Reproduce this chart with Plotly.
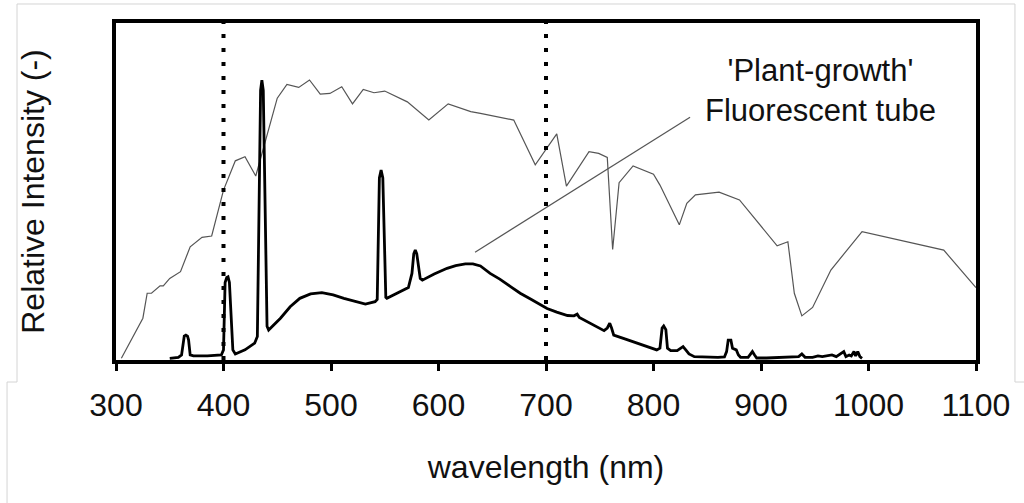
import plotly.graph_objects as go

# ---------------- data ----------------
sun_nm = [305, 325, 329, 333, 341, 344, 350, 360, 369, 380, 389, 400, 411, 420, 430, 440,
          450, 459, 470, 480, 490, 499, 510, 520, 530, 540, 550, 571, 591, 609, 630, 639,
          670, 690, 701, 710, 719, 740, 749, 757, 762, 768, 781, 800, 806, 824, 831, 839,
          861, 880, 915, 925, 931, 938, 948, 965, 994, 1070, 1100]
sun_int = [0.005, 0.124, 0.198, 0.198, 0.220, 0.220, 0.242, 0.262, 0.336, 0.364, 0.368,
           0.504, 0.591, 0.603, 0.546, 0.663, 0.777, 0.818, 0.809, 0.831, 0.789, 0.791,
           0.811, 0.760, 0.803, 0.793, 0.798, 0.766, 0.712, 0.760, 0.737, 0.732, 0.712,
           0.579, 0.628, 0.671, 0.516, 0.618, 0.613, 0.601, 0.328, 0.526, 0.576, 0.551,
           0.519, 0.401, 0.465, 0.490, 0.498, 0.475, 0.339, 0.351, 0.198, 0.131, 0.156,
           0.267, 0.381, 0.326, 0.215]

fl_nm = [350, 358, 361, 362.5, 363.5, 365, 366.5, 367.5, 369, 372, 385, 398, 400, 401.5,
         403, 404.2, 405.5, 408.7, 411, 420, 429, 431.5, 434.5, 435.7, 437, 440.5, 442, 453,
         462, 471, 481, 491.5, 502, 512, 522, 532, 541, 543, 545, 546.6, 548.2, 551, 552, 562,
         572, 575.3, 577, 578.4, 579.8, 583, 585, 596, 608, 616, 625, 632, 639, 648, 657,
         667, 676, 686, 694, 701, 710, 720, 726, 729, 731, 742, 754, 757, 759.3, 761, 763,
         774, 785, 795, 803, 806, 808, 809.5, 811.5, 813, 816, 822, 825, 827.5, 830, 833,
         838, 850, 860, 866, 868, 869.5, 872, 873.5, 877, 879, 881, 888, 890, 892, 894, 896,
         905, 915, 925, 935, 938, 941, 948, 953, 957, 962, 966, 970, 974, 977, 979, 982,
         984, 986.5, 988, 990, 992, 994]
fl_int = [0.005, 0.008, 0.015, 0.06, 0.071, 0.074, 0.071, 0.06, 0.015, 0.012, 0.012, 0.015,
          0.03, 0.23, 0.245, 0.247, 0.23, 0.03, 0.018, 0.03, 0.05, 0.07, 0.80, 0.83, 0.80,
          0.10, 0.089, 0.124, 0.158, 0.183, 0.196, 0.200, 0.193, 0.183, 0.174, 0.166, 0.173,
          0.18, 0.54, 0.564, 0.54, 0.186, 0.183, 0.198, 0.215, 0.257, 0.315, 0.326, 0.315,
          0.242, 0.237, 0.255, 0.272, 0.28, 0.285, 0.285, 0.279, 0.257, 0.24, 0.218, 0.198,
          0.180, 0.165, 0.153, 0.142, 0.132, 0.131, 0.136, 0.126, 0.107, 0.087, 0.095, 0.109,
          0.095, 0.074, 0.062, 0.050, 0.040, 0.030, 0.035, 0.095, 0.101, 0.09, 0.035, 0.028,
          0.028, 0.035, 0.040, 0.03, 0.018, 0.01, 0.008, 0.008, 0.009, 0.025, 0.059, 0.059,
          0.035, 0.030, 0.015, 0.008, 0.008, 0.018, 0.025, 0.015, 0.006, 0.006, 0.007, 0.009,
          0.01, 0.018, 0.008, 0.008, 0.012, 0.01, 0.014, 0.015, 0.01, 0.018, 0.025, 0.01,
          0.015, 0.012, 0.025, 0.012, 0.025, 0.01, 0.005]

par_bounds = [400, 700]          # dotted reference lines (nm)
x_ticks = [300, 400, 500, 600, 700, 800, 900, 1000, 1100]
label_text = "'Plant-growth'<br>Fluorescent tube"
label_pos = (955, 0.80)
leader = [(634, 0.32), (834, 0.72)]

FONT = "Liberation Sans, Arial, sans-serif"

fig = go.Figure()
fig.add_trace(go.Scatter(x=sun_nm, y=sun_int, mode="lines",
                         line=dict(color="#555555", width=1.2), showlegend=False,
                         hoverinfo="skip"))
fig.add_trace(go.Scatter(x=fl_nm, y=fl_int, mode="lines",
                         line=dict(color="#000000", width=2.8), showlegend=False,
                         hoverinfo="skip"))

shapes = []
for xb in par_bounds:
    shapes.append(dict(type="line", xref="x", yref="paper", x0=xb, x1=xb, y0=0, y1=1,
                       line=dict(color="black", width=4, dash="4px,10px")))
shapes.append(dict(type="line", xref="x", yref="y", x0=leader[0][0], y0=leader[0][1],
                   x1=leader[1][0], y1=leader[1][1], line=dict(color="#555555", width=1.2)))

# faint grey frame lines of the source picture
g = dict(color="#d4d4d4", width=1)
for (x0, y0, x1, y1) in [(-0.1151, 1.0564, 1.0453, 1.0564), (-0.1151, 1.0564, -0.1151, -0.0653),
                         (1.0453, 1.0564, 1.0453, -0.0653), (-0.1267, -0.0653, -0.1151, -0.0653),
                         (-0.1267, -0.0653, -0.1267, -0.45), (1.0453, -0.0653, 1.07, -0.0653)]:
    shapes.append(dict(type="line", xref="paper", yref="paper", x0=x0, y0=y0, x1=x1, y1=y1,
                       line=g, layer="below"))

fig.update_layout(
    width=1024, height=503,
    margin=dict(l=116, r=48, t=23, b=143),
    paper_bgcolor="white", plot_bgcolor="white",
    font=dict(family=FONT, color="#111111", size=32),
    shapes=shapes,
    xaxis=dict(range=[300, 1100], tickvals=x_ticks, ticks="outside", ticklen=7, tickwidth=3,
               tickcolor="black", showline=True, linewidth=3.5, linecolor="black", mirror=True,
               showgrid=False, zeroline=False, tickfont=dict(size=32, family=FONT),
               ticklabelstandoff=7,
               title=dict(text="wavelength (nm)", font=dict(size=32, family=FONT), standoff=34)),
    yaxis=dict(range=[0, 1], showticklabels=False, ticks="", showline=True, linewidth=3.5,
               linecolor="black", mirror=True, showgrid=False, zeroline=False,
               title=dict(text="Relative Intensity (-)", font=dict(size=32, family=FONT),
                          standoff=59)),
    annotations=[dict(x=label_pos[0], y=label_pos[1], xref="x", yref="y", text=label_text,
                      showarrow=False, font=dict(size=31, family=FONT, color="#111111"),
                      align="center", xanchor="center", yanchor="middle")],
)

fig.write_html("out.html")
